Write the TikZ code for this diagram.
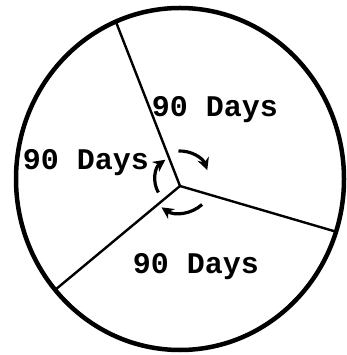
\documentclass[tikz,border=0pt]{standalone}
\usepackage{fontspec}
\setmonofont{Liberation Mono}
\usetikzlibrary{arrows.meta}
\begin{document}
\begin{tikzpicture}[x=1pt,y=1pt,
  rim/.style={line width=4.5pt},
  spoke/.style={line width=2.4pt},
  lbl/.style={font=\ttfamily\bfseries\fontsize{30}{32}\selectfont, inner sep=0pt},
  turn/.style={line width=3.2pt,-{Stealth[length=12pt,width=12pt]}}]
\useasboundingbox (0,0) rectangle (346,355);
\coordinate (mid) at (180,176);
\draw[rim] (mid) ellipse[x radius=164, y radius=171];
\coordinate (hub) at (180,169);
\coordinate (e1) at (116,333);
\coordinate (e2) at (337,123);
\coordinate (e3) at (55,65);
\draw[spoke] (hub) -- (e1);
\draw[spoke] (hub) -- (e2);
\draw[spoke] (hub) -- (e3);
\node[lbl] (t1) at (215,245) {90 Days};
\node[lbl] (t2) at (86,192) {90 Days};
\node[lbl] (t3) at (196,88) {90 Days};
\coordinate (c) at (180,175);
\draw[turn] ([shift={(93:29)}]c) arc[start angle=93, end angle=20, radius=29];
\draw[turn] ([shift={(-48:33)}]c) arc[start angle=-48, end angle=-124, radius=33];
\draw[turn] ([shift={(210:25)}]c) arc[start angle=210, end angle=126, radius=25];
\end{tikzpicture}
\end{document}
